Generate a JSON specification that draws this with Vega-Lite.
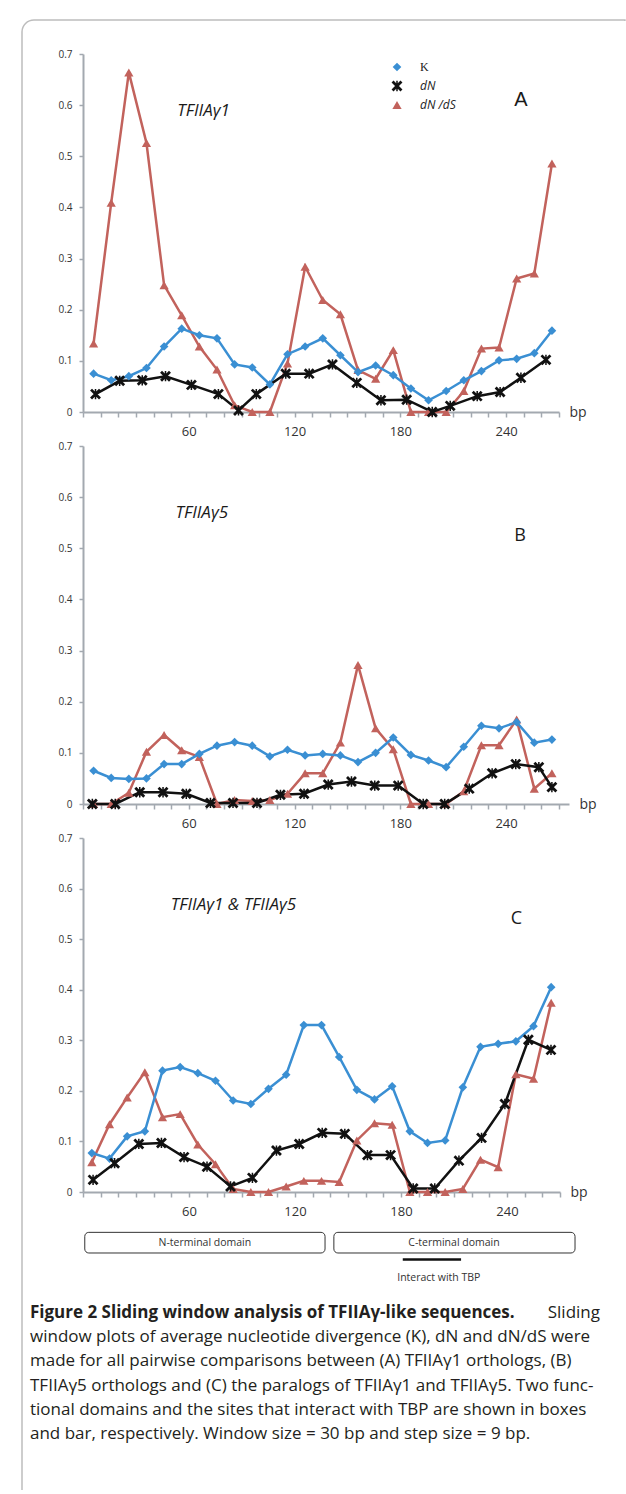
{
  "$schema": "https://vega.github.io/schema/vega-lite/v6.json",
  "background": "white",
  "padding": {"left": 21, "top": 19, "right": 0, "bottom": 0},
  "bounds": "flush",
  "spacing": 34,
  "config": {
    "view": {"stroke": null},
    "font": "Open Sans",
    "axis": {"grid": false, "domainColor": "#A3A9B0", "domainWidth": 2, "tickColor": "#A3A9B0", "tickWidth": 1.5, "labelColor": "#333333", "labelFont": "Open Sans"},
    "axisX": {"tickCount": 27, "labelExpr": "datum.value % 60 === 0 && datum.value > 0 ? datum.label : ''", "tickSize": 5, "labelPadding": 8, "labelFontSize": 13, "labelOverlap": false, "labelFlush": false, "titleAlign": "left", "titleBaseline": "middle", "titleFontWeight": "normal", "titleFontSize": 14, "titleColor": "#333333", "titleY": 0},
    "axisY": {"tickCount": 7, "labelExpr": "datum.value === 0 ? '0' : format(datum.value, '.1f')", "tickSize": 4, "labelPadding": 7, "labelFontSize": 10}
  },
  "resolve": {"scale": {"color": "independent", "shape": "independent", "size": "independent"}},
  "datasets": {
    "series": [
      {"panel": "A", "series": "dN/dS", "bp": 6, "value": 0.134},
      {"panel": "A", "series": "dN/dS", "bp": 16, "value": 0.409},
      {"panel": "A", "series": "dN/dS", "bp": 26, "value": 0.664},
      {"panel": "A", "series": "dN/dS", "bp": 36, "value": 0.526},
      {"panel": "A", "series": "dN/dS", "bp": 46, "value": 0.248},
      {"panel": "A", "series": "dN/dS", "bp": 56, "value": 0.189},
      {"panel": "A", "series": "dN/dS", "bp": 66, "value": 0.128},
      {"panel": "A", "series": "dN/dS", "bp": 76, "value": 0.083},
      {"panel": "A", "series": "dN/dS", "bp": 86, "value": 0.013},
      {"panel": "A", "series": "dN/dS", "bp": 96, "value": 0},
      {"panel": "A", "series": "dN/dS", "bp": 106, "value": 0},
      {"panel": "A", "series": "dN/dS", "bp": 116, "value": 0.095},
      {"panel": "A", "series": "dN/dS", "bp": 126, "value": 0.284},
      {"panel": "A", "series": "dN/dS", "bp": 136, "value": 0.219},
      {"panel": "A", "series": "dN/dS", "bp": 146, "value": 0.191},
      {"panel": "A", "series": "dN/dS", "bp": 156, "value": 0.082},
      {"panel": "A", "series": "dN/dS", "bp": 166, "value": 0.065},
      {"panel": "A", "series": "dN/dS", "bp": 176, "value": 0.121},
      {"panel": "A", "series": "dN/dS", "bp": 186, "value": 0},
      {"panel": "A", "series": "dN/dS", "bp": 196, "value": 0},
      {"panel": "A", "series": "dN/dS", "bp": 206, "value": 0},
      {"panel": "A", "series": "dN/dS", "bp": 216, "value": 0.041},
      {"panel": "A", "series": "dN/dS", "bp": 226, "value": 0.124},
      {"panel": "A", "series": "dN/dS", "bp": 236, "value": 0.126},
      {"panel": "A", "series": "dN/dS", "bp": 246, "value": 0.261},
      {"panel": "A", "series": "dN/dS", "bp": 256, "value": 0.271},
      {"panel": "A", "series": "dN/dS", "bp": 266, "value": 0.486},
      {"panel": "A", "series": "K", "bp": 6, "value": 0.075},
      {"panel": "A", "series": "K", "bp": 16, "value": 0.062},
      {"panel": "A", "series": "K", "bp": 26, "value": 0.07},
      {"panel": "A", "series": "K", "bp": 36, "value": 0.086},
      {"panel": "A", "series": "K", "bp": 46, "value": 0.128},
      {"panel": "A", "series": "K", "bp": 56, "value": 0.163},
      {"panel": "A", "series": "K", "bp": 66, "value": 0.15},
      {"panel": "A", "series": "K", "bp": 76, "value": 0.144},
      {"panel": "A", "series": "K", "bp": 86, "value": 0.093},
      {"panel": "A", "series": "K", "bp": 96, "value": 0.087},
      {"panel": "A", "series": "K", "bp": 106, "value": 0.054},
      {"panel": "A", "series": "K", "bp": 116, "value": 0.113},
      {"panel": "A", "series": "K", "bp": 126, "value": 0.128},
      {"panel": "A", "series": "K", "bp": 136, "value": 0.144},
      {"panel": "A", "series": "K", "bp": 146, "value": 0.111},
      {"panel": "A", "series": "K", "bp": 156, "value": 0.078},
      {"panel": "A", "series": "K", "bp": 166, "value": 0.091},
      {"panel": "A", "series": "K", "bp": 176, "value": 0.072},
      {"panel": "A", "series": "K", "bp": 186, "value": 0.046},
      {"panel": "A", "series": "K", "bp": 196, "value": 0.023},
      {"panel": "A", "series": "K", "bp": 206, "value": 0.041},
      {"panel": "A", "series": "K", "bp": 216, "value": 0.062},
      {"panel": "A", "series": "K", "bp": 226, "value": 0.08},
      {"panel": "A", "series": "K", "bp": 236, "value": 0.101},
      {"panel": "A", "series": "K", "bp": 246, "value": 0.104},
      {"panel": "A", "series": "K", "bp": 256, "value": 0.115},
      {"panel": "A", "series": "K", "bp": 266, "value": 0.159},
      {"panel": "A", "series": "dN", "bp": 7.1, "value": 0.035},
      {"panel": "A", "series": "dN", "bp": 20.8, "value": 0.061},
      {"panel": "A", "series": "dN", "bp": 33.6, "value": 0.062},
      {"panel": "A", "series": "dN", "bp": 46.8, "value": 0.07},
      {"panel": "A", "series": "dN", "bp": 61.5, "value": 0.053},
      {"panel": "A", "series": "dN", "bp": 76.8, "value": 0.035},
      {"panel": "A", "series": "dN", "bp": 88.2, "value": 0.003},
      {"panel": "A", "series": "dN", "bp": 98.3, "value": 0.035},
      {"panel": "A", "series": "dN", "bp": 115, "value": 0.075},
      {"panel": "A", "series": "dN", "bp": 128.3, "value": 0.075},
      {"panel": "A", "series": "dN", "bp": 141.5, "value": 0.093},
      {"panel": "A", "series": "dN", "bp": 155.3, "value": 0.057},
      {"panel": "A", "series": "dN", "bp": 169, "value": 0.023},
      {"panel": "A", "series": "dN", "bp": 183.6, "value": 0.024},
      {"panel": "A", "series": "dN", "bp": 198.1, "value": 0},
      {"panel": "A", "series": "dN", "bp": 208.3, "value": 0.012},
      {"panel": "A", "series": "dN", "bp": 223.6, "value": 0.031},
      {"panel": "A", "series": "dN", "bp": 236.6, "value": 0.039},
      {"panel": "A", "series": "dN", "bp": 248.4, "value": 0.067},
      {"panel": "A", "series": "dN", "bp": 262.6, "value": 0.102},

      {"panel": "B", "series": "dN/dS", "bp": 6, "value": 0},
      {"panel": "B", "series": "dN/dS", "bp": 16, "value": 0},
      {"panel": "B", "series": "dN/dS", "bp": 26, "value": 0.022},
      {"panel": "B", "series": "dN/dS", "bp": 36, "value": 0.102},
      {"panel": "B", "series": "dN/dS", "bp": 46, "value": 0.135},
      {"panel": "B", "series": "dN/dS", "bp": 56, "value": 0.105},
      {"panel": "B", "series": "dN/dS", "bp": 66, "value": 0.092},
      {"panel": "B", "series": "dN/dS", "bp": 76, "value": 0},
      {"panel": "B", "series": "dN/dS", "bp": 86, "value": 0.008},
      {"panel": "B", "series": "dN/dS", "bp": 96, "value": 0.006},
      {"panel": "B", "series": "dN/dS", "bp": 106, "value": 0.008},
      {"panel": "B", "series": "dN/dS", "bp": 116, "value": 0.02},
      {"panel": "B", "series": "dN/dS", "bp": 126, "value": 0.06},
      {"panel": "B", "series": "dN/dS", "bp": 136, "value": 0.06},
      {"panel": "B", "series": "dN/dS", "bp": 146, "value": 0.12},
      {"panel": "B", "series": "dN/dS", "bp": 156, "value": 0.272},
      {"panel": "B", "series": "dN/dS", "bp": 166, "value": 0.148},
      {"panel": "B", "series": "dN/dS", "bp": 176, "value": 0.107},
      {"panel": "B", "series": "dN/dS", "bp": 186, "value": 0},
      {"panel": "B", "series": "dN/dS", "bp": 196, "value": 0},
      {"panel": "B", "series": "dN/dS", "bp": 206, "value": 0},
      {"panel": "B", "series": "dN/dS", "bp": 216, "value": 0.025},
      {"panel": "B", "series": "dN/dS", "bp": 226, "value": 0.115},
      {"panel": "B", "series": "dN/dS", "bp": 236, "value": 0.115},
      {"panel": "B", "series": "dN/dS", "bp": 246, "value": 0.165},
      {"panel": "B", "series": "dN/dS", "bp": 256, "value": 0.03},
      {"panel": "B", "series": "dN/dS", "bp": 266, "value": 0.06},
      {"panel": "B", "series": "K", "bp": 6, "value": 0.065},
      {"panel": "B", "series": "K", "bp": 16, "value": 0.051},
      {"panel": "B", "series": "K", "bp": 26, "value": 0.049},
      {"panel": "B", "series": "K", "bp": 36, "value": 0.05},
      {"panel": "B", "series": "K", "bp": 46, "value": 0.078},
      {"panel": "B", "series": "K", "bp": 56, "value": 0.078},
      {"panel": "B", "series": "K", "bp": 66, "value": 0.098},
      {"panel": "B", "series": "K", "bp": 76, "value": 0.114},
      {"panel": "B", "series": "K", "bp": 86, "value": 0.121},
      {"panel": "B", "series": "K", "bp": 96, "value": 0.114},
      {"panel": "B", "series": "K", "bp": 106, "value": 0.093},
      {"panel": "B", "series": "K", "bp": 116, "value": 0.106},
      {"panel": "B", "series": "K", "bp": 126, "value": 0.095},
      {"panel": "B", "series": "K", "bp": 136, "value": 0.098},
      {"panel": "B", "series": "K", "bp": 146, "value": 0.095},
      {"panel": "B", "series": "K", "bp": 156, "value": 0.082},
      {"panel": "B", "series": "K", "bp": 166, "value": 0.1},
      {"panel": "B", "series": "K", "bp": 176, "value": 0.13},
      {"panel": "B", "series": "K", "bp": 186, "value": 0.096},
      {"panel": "B", "series": "K", "bp": 196, "value": 0.085},
      {"panel": "B", "series": "K", "bp": 206, "value": 0.072},
      {"panel": "B", "series": "K", "bp": 216, "value": 0.112},
      {"panel": "B", "series": "K", "bp": 226, "value": 0.153},
      {"panel": "B", "series": "K", "bp": 236, "value": 0.148},
      {"panel": "B", "series": "K", "bp": 246, "value": 0.16},
      {"panel": "B", "series": "K", "bp": 256, "value": 0.12},
      {"panel": "B", "series": "K", "bp": 266, "value": 0.126},
      {"panel": "B", "series": "dN", "bp": 5.3, "value": 0},
      {"panel": "B", "series": "dN", "bp": 18.3, "value": 0},
      {"panel": "B", "series": "dN", "bp": 32.2, "value": 0.023},
      {"panel": "B", "series": "dN", "bp": 45.4, "value": 0.023},
      {"panel": "B", "series": "dN", "bp": 58.6, "value": 0.02},
      {"panel": "B", "series": "dN", "bp": 72.3, "value": 0.002},
      {"panel": "B", "series": "dN", "bp": 85.1, "value": 0.002},
      {"panel": "B", "series": "dN", "bp": 98.7, "value": 0.002},
      {"panel": "B", "series": "dN", "bp": 112, "value": 0.018},
      {"panel": "B", "series": "dN", "bp": 125.4, "value": 0.02},
      {"panel": "B", "series": "dN", "bp": 139.1, "value": 0.038},
      {"panel": "B", "series": "dN", "bp": 152.3, "value": 0.044},
      {"panel": "B", "series": "dN", "bp": 165.5, "value": 0.036},
      {"panel": "B", "series": "dN", "bp": 178.8, "value": 0.036},
      {"panel": "B", "series": "dN", "bp": 193, "value": 0},
      {"panel": "B", "series": "dN", "bp": 205.2, "value": 0},
      {"panel": "B", "series": "dN", "bp": 219.1, "value": 0.03},
      {"panel": "B", "series": "dN", "bp": 232.1, "value": 0.06},
      {"panel": "B", "series": "dN", "bp": 245.5, "value": 0.078},
      {"panel": "B", "series": "dN", "bp": 258.6, "value": 0.072},
      {"panel": "B", "series": "dN", "bp": 266, "value": 0.033},

      {"panel": "C", "series": "dN/dS", "bp": 5, "value": 0.059},
      {"panel": "C", "series": "dN/dS", "bp": 15, "value": 0.134},
      {"panel": "C", "series": "dN/dS", "bp": 25, "value": 0.187},
      {"panel": "C", "series": "dN/dS", "bp": 35, "value": 0.237},
      {"panel": "C", "series": "dN/dS", "bp": 45, "value": 0.148},
      {"panel": "C", "series": "dN/dS", "bp": 55, "value": 0.154},
      {"panel": "C", "series": "dN/dS", "bp": 65, "value": 0.094},
      {"panel": "C", "series": "dN/dS", "bp": 75, "value": 0.055},
      {"panel": "C", "series": "dN/dS", "bp": 85, "value": 0.006},
      {"panel": "C", "series": "dN/dS", "bp": 95, "value": 0},
      {"panel": "C", "series": "dN/dS", "bp": 105, "value": 0},
      {"panel": "C", "series": "dN/dS", "bp": 115, "value": 0.011},
      {"panel": "C", "series": "dN/dS", "bp": 125, "value": 0.022},
      {"panel": "C", "series": "dN/dS", "bp": 135, "value": 0.022},
      {"panel": "C", "series": "dN/dS", "bp": 145, "value": 0.02},
      {"panel": "C", "series": "dN/dS", "bp": 155, "value": 0.102},
      {"panel": "C", "series": "dN/dS", "bp": 165, "value": 0.136},
      {"panel": "C", "series": "dN/dS", "bp": 175, "value": 0.133},
      {"panel": "C", "series": "dN/dS", "bp": 185, "value": 0},
      {"panel": "C", "series": "dN/dS", "bp": 195, "value": 0},
      {"panel": "C", "series": "dN/dS", "bp": 205, "value": 0},
      {"panel": "C", "series": "dN/dS", "bp": 215, "value": 0.006},
      {"panel": "C", "series": "dN/dS", "bp": 225, "value": 0.064},
      {"panel": "C", "series": "dN/dS", "bp": 235, "value": 0.049},
      {"panel": "C", "series": "dN/dS", "bp": 245, "value": 0.233},
      {"panel": "C", "series": "dN/dS", "bp": 255, "value": 0.224},
      {"panel": "C", "series": "dN/dS", "bp": 265, "value": 0.374},
      {"panel": "C", "series": "K", "bp": 5, "value": 0.077},
      {"panel": "C", "series": "K", "bp": 15, "value": 0.066},
      {"panel": "C", "series": "K", "bp": 25, "value": 0.11},
      {"panel": "C", "series": "K", "bp": 35, "value": 0.12},
      {"panel": "C", "series": "K", "bp": 45, "value": 0.24},
      {"panel": "C", "series": "K", "bp": 55, "value": 0.247},
      {"panel": "C", "series": "K", "bp": 65, "value": 0.235},
      {"panel": "C", "series": "K", "bp": 75, "value": 0.22},
      {"panel": "C", "series": "K", "bp": 85, "value": 0.181},
      {"panel": "C", "series": "K", "bp": 95, "value": 0.174},
      {"panel": "C", "series": "K", "bp": 105, "value": 0.204},
      {"panel": "C", "series": "K", "bp": 115, "value": 0.232},
      {"panel": "C", "series": "K", "bp": 125, "value": 0.33},
      {"panel": "C", "series": "K", "bp": 135, "value": 0.33},
      {"panel": "C", "series": "K", "bp": 145, "value": 0.267},
      {"panel": "C", "series": "K", "bp": 155, "value": 0.202},
      {"panel": "C", "series": "K", "bp": 165, "value": 0.183},
      {"panel": "C", "series": "K", "bp": 175, "value": 0.209},
      {"panel": "C", "series": "K", "bp": 185, "value": 0.12},
      {"panel": "C", "series": "K", "bp": 195, "value": 0.097},
      {"panel": "C", "series": "K", "bp": 205, "value": 0.102},
      {"panel": "C", "series": "K", "bp": 215, "value": 0.207},
      {"panel": "C", "series": "K", "bp": 225, "value": 0.287},
      {"panel": "C", "series": "K", "bp": 235, "value": 0.293},
      {"panel": "C", "series": "K", "bp": 245, "value": 0.298},
      {"panel": "C", "series": "K", "bp": 255, "value": 0.328},
      {"panel": "C", "series": "K", "bp": 265, "value": 0.405},
      {"panel": "C", "series": "dN", "bp": 5.7, "value": 0.024},
      {"panel": "C", "series": "dN", "bp": 17.9, "value": 0.057},
      {"panel": "C", "series": "dN", "bp": 31.6, "value": 0.095},
      {"panel": "C", "series": "dN", "bp": 44.4, "value": 0.097},
      {"panel": "C", "series": "dN", "bp": 57.2, "value": 0.069},
      {"panel": "C", "series": "dN", "bp": 70.2, "value": 0.05},
      {"panel": "C", "series": "dN", "bp": 83.5, "value": 0.011},
      {"panel": "C", "series": "dN", "bp": 95.9, "value": 0.028},
      {"panel": "C", "series": "dN", "bp": 109.5, "value": 0.082},
      {"panel": "C", "series": "dN", "bp": 122.4, "value": 0.095},
      {"panel": "C", "series": "dN", "bp": 135.4, "value": 0.117},
      {"panel": "C", "series": "dN", "bp": 148.2, "value": 0.115},
      {"panel": "C", "series": "dN", "bp": 161, "value": 0.073},
      {"panel": "C", "series": "dN", "bp": 174.1, "value": 0.073},
      {"panel": "C", "series": "dN", "bp": 186.9, "value": 0.007},
      {"panel": "C", "series": "dN", "bp": 199.1, "value": 0.007},
      {"panel": "C", "series": "dN", "bp": 212.8, "value": 0.062},
      {"panel": "C", "series": "dN", "bp": 225.6, "value": 0.107},
      {"panel": "C", "series": "dN", "bp": 238.8, "value": 0.174},
      {"panel": "C", "series": "dN", "bp": 252.1, "value": 0.301},
      {"panel": "C", "series": "dN", "bp": 264.9, "value": 0.281}
    ],
    "domains": [
      {"domain": "N-terminal domain", "start": 1, "end": 137},
      {"domain": "C-terminal domain", "start": 142, "end": 278.5}
    ],
    "tbp": [
      {"site": "Interact with TBP", "start": 181, "end": 214}
    ]
  },
  "vconcat": [
    {
      "width": 476,
      "height": 358,
      "layer": [
        {
          "data": {"values": [{}]},
          "mark": {"type": "rect", "filled": false, "stroke": "#BDBDBD", "strokeWidth": 1.5, "cornerRadiusTopLeft": 12, "strokeDash": [592, 2078, 1484, 100000]},
          "encoding": {
            "x": {"datum": -34.6, "type": "quantitative"},
            "x2": {"datum": 307.4},
            "y": {"datum": 0.7665, "type": "quantitative"},
            "y2": {"datum": -2.1138}
          }
        },
        {
          "data": {"name": "series"},
          "transform": [{"filter": "datum.panel === 'A'"}],
          "encoding": {
            "x": {"field": "bp", "type": "quantitative", "scale": {"domain": [0, 270], "nice": false, "zero": false}, "axis": {"title": "bp", "titleX": 486}},
            "y": {"field": "value", "type": "quantitative", "scale": {"domain": [0, 0.7], "nice": false}, "axis": {"title": null}},
            "color": {"field": "series", "type": "nominal", "scale": {"domain": ["K", "dN", "dN/dS"], "range": ["#3A8FD3", "#111111", "#C2625C"]},
              "legend": {"orient": "none", "legendX": 308, "legendY": 7, "title": null, "padding": 0, "symbolSize": 64, "symbolStrokeWidth": 0, "labelOffset": 17, "rowPadding": 7, "labelFontSize": 12, "labelColor": "#222222", "labelExpr": "datum.label === 'dN/dS' ? 'dN /dS' : datum.label",
                "encode": {"labels": {"update": {"fontStyle": {"signal": "datum.label === 'K' ? 'normal' : 'italic'"}, "font": {"signal": "datum.label === 'K' ? 'Liberation Serif' : 'Open Sans'"}}}}}}
          },
          "layer": [
            {"mark": {"type": "line", "strokeWidth": 2.5}},
            {
              "mark": {"type": "point", "filled": true, "opacity": 1, "strokeWidth": 0},
              "encoding": {
                "shape": {"field": "series", "type": "nominal", "scale": {"domain": ["K", "dN", "dN/dS"], "range": ["diamond", "M-0.78,-1.22L1.22,0.78L0.78,1.22L-1.22,-0.78Z M-0.78,1.22L-1.22,0.78L0.78,-1.22L1.22,-0.78Z M-0.17,-1.15L0.17,-1.15L0.17,1.15L-0.17,1.15Z", "triangle-up"]},
                  "legend": {"orient": "none", "legendX": 308, "legendY": 7, "title": null, "padding": 0, "symbolSize": 64, "symbolStrokeWidth": 0, "labelOffset": 17, "rowPadding": 7, "labelFontSize": 12, "labelColor": "#222222", "labelExpr": "datum.label === 'dN/dS' ? 'dN /dS' : datum.label",
                    "encode": {"labels": {"update": {"fontStyle": {"signal": "datum.label === 'K' ? 'normal' : 'italic'"}, "font": {"signal": "datum.label === 'K' ? 'Liberation Serif' : 'Open Sans'"}}}}}},
                "size": {"field": "series", "type": "nominal", "scale": {"domain": ["K", "dN", "dN/dS"], "range": [75, 85, 80]}, "legend": null}
              }
            }
          ]
        },
        {
          "data": {"values": [{}]},
          "mark": {"type": "text", "text": "TFIIAγ1", "align": "left", "baseline": "middle", "fontSize": 17, "fontStyle": "italic", "color": "#1a1a1a"},
          "encoding": {
            "x": {"datum": 53.5, "type": "quantitative"},
            "y": {"datum": 0.589, "type": "quantitative"}
          }
        },
        {
          "data": {"values": [{}]},
          "mark": {"type": "text", "text": "A", "align": "center", "baseline": "middle", "fontSize": 20, "font": "Liberation Sans", "color": "#1a1a1a"},
          "encoding": {
            "x": {"datum": 248.4, "type": "quantitative"},
            "y": {"datum": 0.61, "type": "quantitative"}
          }
        }
      ]
    },
    {
      "width": 486,
      "height": 358,
      "layer": [
        {
          "data": {"name": "series"},
          "transform": [{"filter": "datum.panel === 'B'"}],
          "encoding": {
            "x": {"field": "bp", "type": "quantitative", "scale": {"domain": [0, 275.7], "nice": false, "zero": false}, "axis": {"title": "bp", "titleX": 496}},
            "y": {"field": "value", "type": "quantitative", "scale": {"domain": [0, 0.7], "nice": false}, "axis": {"title": null}},
            "color": {"field": "series", "type": "nominal", "scale": {"domain": ["K", "dN", "dN/dS"], "range": ["#3A8FD3", "#111111", "#C2625C"]}, "legend": null}
          },
          "layer": [
            {"mark": {"type": "line", "strokeWidth": 2.5}},
            {
              "mark": {"type": "point", "filled": true, "opacity": 1, "strokeWidth": 0},
              "encoding": {
                "shape": {"field": "series", "type": "nominal", "scale": {"domain": ["K", "dN", "dN/dS"], "range": ["diamond", "M-0.78,-1.22L1.22,0.78L0.78,1.22L-1.22,-0.78Z M-0.78,1.22L-1.22,0.78L0.78,-1.22L1.22,-0.78Z M-0.17,-1.15L0.17,-1.15L0.17,1.15L-0.17,1.15Z", "triangle-up"]}, "legend": null},
                "size": {"field": "series", "type": "nominal", "scale": {"domain": ["K", "dN", "dN/dS"], "range": [75, 85, 80]}, "legend": null}
              }
            }
          ]
        },
        {
          "data": {"values": [{}]},
          "mark": {"type": "text", "text": "TFIIAγ5", "align": "left", "baseline": "middle", "fontSize": 17, "fontStyle": "italic", "color": "#1a1a1a"},
          "encoding": {
            "x": {"datum": 52.5, "type": "quantitative"},
            "y": {"datum": 0.569, "type": "quantitative"}
          }
        },
        {
          "data": {"values": [{}]},
          "mark": {"type": "text", "text": "B", "align": "center", "baseline": "middle", "fontSize": 18, "color": "#1a1a1a"},
          "encoding": {
            "x": {"datum": 247.9, "type": "quantitative"},
            "y": {"datum": 0.524, "type": "quantitative"}
          }
        }
      ]
    },
    {
      "width": 477,
      "height": 354,
      "layer": [
        {
          "data": {"name": "series"},
          "transform": [{"filter": "datum.panel === 'C'"}],
          "encoding": {
            "x": {"field": "bp", "type": "quantitative", "scale": {"domain": [0, 270], "nice": false, "zero": false}, "axis": {"title": "bp", "titleX": 487}},
            "y": {"field": "value", "type": "quantitative", "scale": {"domain": [0, 0.7], "nice": false}, "axis": {"title": null}},
            "color": {"field": "series", "type": "nominal", "scale": {"domain": ["K", "dN", "dN/dS"], "range": ["#3A8FD3", "#111111", "#C2625C"]}, "legend": null}
          },
          "layer": [
            {"mark": {"type": "line", "strokeWidth": 2.5}},
            {
              "mark": {"type": "point", "filled": true, "opacity": 1, "strokeWidth": 0},
              "encoding": {
                "shape": {"field": "series", "type": "nominal", "scale": {"domain": ["K", "dN", "dN/dS"], "range": ["diamond", "M-0.78,-1.22L1.22,0.78L0.78,1.22L-1.22,-0.78Z M-0.78,1.22L-1.22,0.78L0.78,-1.22L1.22,-0.78Z M-0.17,-1.15L0.17,-1.15L0.17,1.15L-0.17,1.15Z", "triangle-up"]}, "legend": null},
                "size": {"field": "series", "type": "nominal", "scale": {"domain": ["K", "dN", "dN/dS"], "range": [75, 85, 80]}, "legend": null}
              }
            }
          ]
        },
        {
          "data": {"values": [{}]},
          "mark": {"type": "text", "text": "TFIIAγ1  &  TFIIAγ5", "align": "left", "baseline": "middle", "fontSize": 17, "fontStyle": "italic", "color": "#1a1a1a"},
          "encoding": {
            "x": {"datum": 49.7, "type": "quantitative"},
            "y": {"datum": 0.568, "type": "quantitative"}
          }
        },
        {
          "data": {"values": [{}]},
          "mark": {"type": "text", "text": "C", "align": "center", "baseline": "middle", "fontSize": 18, "color": "#1a1a1a"},
          "encoding": {
            "x": {"datum": 245.4, "type": "quantitative"},
            "y": {"datum": 0.539, "type": "quantitative"}
          }
        },
        {
          "data": {"name": "domains"},
          "mark": {"type": "rect", "fill": "white", "stroke": "#333333", "strokeWidth": 1, "cornerRadius": 4},
          "encoding": {
            "x": {"field": "start", "type": "quantitative"},
            "x2": {"field": "end"},
            "y": {"datum": -0.0798, "type": "quantitative"},
            "y2": {"datum": -0.1206}
          }
        },
        {
          "data": {"values": [{}]},
          "mark": {"type": "text", "text": "N-terminal domain", "align": "center", "baseline": "middle", "fontSize": 10.5, "color": "#333333"},
          "encoding": {
            "x": {"datum": 69, "type": "quantitative"},
            "y": {"datum": -0.1, "type": "quantitative"}
          }
        },
        {
          "data": {"values": [{}]},
          "mark": {"type": "text", "text": "C-terminal domain", "align": "center", "baseline": "middle", "fontSize": 10.5, "color": "#333333"},
          "encoding": {
            "x": {"datum": 210, "type": "quantitative"},
            "y": {"datum": -0.1, "type": "quantitative"}
          }
        },
        {
          "data": {"name": "tbp"},
          "mark": {"type": "rule", "stroke": "#111111", "strokeWidth": 2.5},
          "encoding": {
            "x": {"field": "start", "type": "quantitative"},
            "x2": {"field": "end"},
            "y": {"datum": -0.1337, "type": "quantitative"}
          }
        },
        {
          "data": {"values": [{}]},
          "mark": {"type": "text", "text": "Interact with TBP", "align": "center", "baseline": "middle", "fontSize": 10.5, "color": "#333333"},
          "encoding": {
            "x": {"datum": 201.4, "type": "quantitative"},
            "y": {"datum": -0.171, "type": "quantitative"}
          }
        }
      ]
    },
    {
      "width": 517,
      "height": 220,
      "data": {"values": [{}]},
      "encoding": {
        "x": {"datum": 0, "type": "quantitative", "scale": {"domain": [0, 1]}, "axis": null},
        "y": {"datum": 1, "type": "quantitative", "scale": {"domain": [-2.6, 6.5], "reverse": true, "nice": false, "zero": false}, "axis": null}
      },
      "layer": [
        {
          "mark": {"type": "text", "text": "Figure 2 Sliding window analysis of TFIIAγ-like sequences.", "align": "left", "baseline": "middle", "fontSize": 17, "fontWeight": "bold", "dx": -53, "color": "#231f20"}
        },
        {
          "mark": {"type": "text", "text": "Sliding", "align": "right", "baseline": "middle", "fontSize": 17, "color": "#231f20"},
          "encoding": {"x": {"datum": 1, "type": "quantitative"}}
        },
        {
          "mark": {"type": "text", "text": "window plots of average nucleotide divergence (K), dN and dN/dS were", "align": "left", "baseline": "middle", "fontSize": 17, "dx": -53, "color": "#231f20"},
          "encoding": {"y": {"datum": 2, "type": "quantitative"}}
        },
        {
          "mark": {"type": "text", "text": "made for all pairwise comparisons between (A) TFIIAγ1 orthologs, (B)", "align": "left", "baseline": "middle", "fontSize": 17, "dx": -53, "color": "#231f20"},
          "encoding": {"y": {"datum": 3, "type": "quantitative"}}
        },
        {
          "mark": {"type": "text", "text": "TFIIAγ5 orthologs and (C) the paralogs of TFIIAγ1 and TFIIAγ5. Two func-", "align": "left", "baseline": "middle", "fontSize": 17, "dx": -53, "color": "#231f20"},
          "encoding": {"y": {"datum": 4, "type": "quantitative"}}
        },
        {
          "mark": {"type": "text", "text": "tional domains and the sites that interact with TBP are shown in boxes", "align": "left", "baseline": "middle", "fontSize": 17, "dx": -53, "color": "#231f20"},
          "encoding": {"y": {"datum": 5, "type": "quantitative"}}
        },
        {
          "mark": {"type": "text", "text": "and bar, respectively. Window size = 30 bp and step size = 9 bp.", "align": "left", "baseline": "middle", "fontSize": 17, "dx": -53, "color": "#231f20"},
          "encoding": {"y": {"datum": 6, "type": "quantitative"}}
        }
      ]
    }
  ]
}
